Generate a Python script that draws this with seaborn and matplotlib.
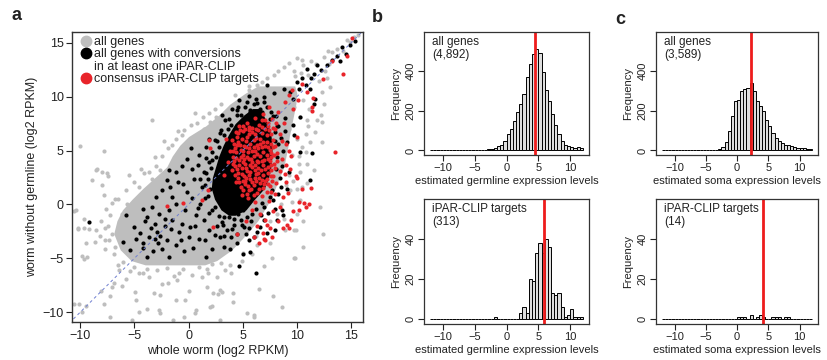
import numpy as np
import pandas as pd
import matplotlib
matplotlib.use("Agg")
import matplotlib.pyplot as plt
from matplotlib.lines import Line2D
import seaborn as sns

sns.set_style("ticks")
plt.rcParams["font.family"] = ["Liberation Sans", "DejaVu Sans"]
plt.rcParams["text.color"] = "#222222"
plt.rcParams["axes.labelcolor"] = "#222222"
plt.rcParams["xtick.color"] = "#222222"
plt.rcParams["ytick.color"] = "#222222"

GRAY = "#bebebe"
BLACK = "#000000"
RED = "#e8242a"

# ---- panel a: whole worm vs worm without germline (log2 RPKM) ----
# dense, saturated part of each cloud (row y, left x, right x)
gray_core_y = [-5.6, -5.2, -4.2, -2.7, -1.5, -0.5, 0.5, 1.5, 2.5, 3.5, 4.5, 5.5, 6.3, 7.3, 8.3, 9.3, 10.3, 11.0]
gray_core_left = [-4.0, -5.3, -6.3, -6.9, -6.6, -6.1, -5.2, -4.2, -3.1, -2.0, -1.5, -0.8, 0.0, 1.6, 2.8, 3.8, 5.2, 6.4]
gray_core_right = [1.5, 2.6, 4.0, 5.4, 6.4, 7.0, 7.6, 8.0, 8.4, 8.8, 9.0, 9.2, 9.3, 9.5, 9.7, 9.9, 10.0, 9.8]

black_core_y = [-1.0, -0.5, 0.5, 1.5, 2.5, 3.5, 4.5, 5.5, 6.5, 7.5, 8.3, 8.9]
black_core_left = [3.7, 3.0, 2.4, 2.1, 2.2, 2.5, 2.8, 3.2, 3.7, 4.3, 5.1, 5.9]
black_core_right = [4.3, 5.3, 6.1, 7.0, 7.4, 7.6, 7.7, 7.7, 7.6, 7.3, 6.9, 6.5]

# single genes outside the saturated cores
gray_pts = [
    (-10.0, 5.4), (-8.5, 3.2), (-7.5, 2.9), (-7.4, 2.6), (-10.6, -0.6), (-9.6, -1.3), (-10.2, -2.3),
    (-9.2, -2.3), (-8.1, -1.5), (-9.5, -3.6), (-8.5, -2.4), (-9.8, -4.8), (-9.6, -5.1), (-10.1, -9.2),
    (-8.1, -8.0), (-6.15, -7.6), (-7.2, -8.5), (-5.2, -10.7), (-4.8, -8.9), (-3.2, -8.2), (-1.85, -7.3),
    (-1.1, -7.0), (-0.3, -8.9), (0.7, -9.8), (2.0, -9.5), (2.3, -8.2), (2.9, -7.9), (4.1, -9.0),
    (5.4, -10.1), (6.0, -10.25), (7.8, -8.5), (8.6, -9.5), (9.7, -5.0), (9.7, -2.4), (10.6, -3.9),
    (12.1, -0.2), (12.3, 5.8), (10.9, 1.95), (12.4, -2.7), (2.9, -10.7), (-2.6, -10.1), (-1.4, -10.7),
    (-10.4, -0.5), (-10.2, -2.2), (-9.6, -2.2), (-9.35, -4.9), (-7.7, -3.3), (-8.6, -3.5), (-8.2, -2.9),
    (-7.05, -2.7), (-7.66, -2.2), (-6.74, -3.9), (-6.43, -6.1), (-5.8, -6.9), (-6.9, -7.3), (-7.1, -7.65),
    (-4.6, -6.35), (-3.67, -6.7), (-2.9, -6.1), (-2.4, -7.35), (-0.9, -6.4), (0.0, -8.0), (1.25, -6.7),
    (1.77, -6.4), (-1.2, -8.9), (1.7, -7.65), (-2.6, -8.4), (2.17, -9.4), (-10.6, -9.2), (-9.5, -9.4),
    (-9.8, -10.0), (-7.8, -9.2), (-4.9, -8.1), (-3.8, -9.7), (-4.6, -10.0), (-2.74, -9.8), (0.64, -10.1),
    (-0.38, -10.4), (-7.2, -10.4), (-8.9, 2.3), (-8.0, 1.8), (-7.8, 0.85), (-6.74, 0.54), (-5.67, 0.08),
    (-5.2, -1.47), (-6.1, -0.85), (0.64, 8.5), (-3.36, 7.8), (-7.8, 5.0), (-8.4, 3.3), (-8.0, 3.0),
    (-3.05, 4.4), (-1.5, 5.5), (-0.6, 6.4), (-2.3, 5.9), (1.4, 7.0), (2.0, 7.65), (2.5, 8.1),
    (-3.67, 3.0), (-4.4, 3.3), (-5.5, 2.7), (6.0, -10.4), (6.5, -7.8), (4.1, -8.2), (3.1, -8.1),
    (2.7, -8.3), (7.7, -5.0), (6.95, -5.7), (9.8, -5.0), (10.6, -1.5), (9.9, -2.4), (10.0, -0.85),
    (9.56, 0.23), (10.3, 0.39), (8.9, -2.4), (8.8, -1.3), (8.2, -0.85), (10.0, 1.47), (9.4, 1.31),
    (10.5, 1.62), (7.56, -3.6), (5.9, -4.6), (6.3, -3.8), (4.94, -5.2), (3.87, -5.6), (3.4, -6.1),
    (2.64, -6.7), (10.0, 13.6), (10.5, 13.4), (9.25, 13.1), (8.3, 12.4), (7.9, 12.0), (7.25, 11.7),
    (6.33, 11.05), (5.56, 10.6), (4.9, 9.8), (4.3, 9.35), (3.7, 8.7), (2.95, 8.1), (8.8, 12.75),
    (9.7, 12.4), (10.6, 12.9), (12.5, 13.7), (13.25, 14.1), (14.9, 15.1), (15.6, 15.7), (12.8, 11.7),
    (13.1, 10.9), (12.3, 10.4), (12.5, 9.35), (12.2, 8.3), (12.3, 7.65), (11.7, 6.7), (11.25, 5.8),
    (10.8, 4.87), (10.9, 3.8), (10.3, 3.0), (9.25, 2.7), (11.6, 3.16), (11.9, 7.8), (10.9, 7.8),
    (10.3, 8.1), (11.1, 8.9), (10.6, 9.66), (9.7, 9.0), (8.9, 8.9), (8.6, 8.1), (9.25, 7.0),
    (10.0, 6.1), (9.56, 4.56), (10.2, 3.8), (11.0, 12.0), (11.8, 13.0), (12.6, 12.4), (13.0, 13.0),
    (13.7, 14.4), (14.3, 14.2), (12.0, 11.5), (9.8, 11.9), (10.4, 12.2), (11.3, 13.3), (12.9, 14.2),
    (14.6, 15.3), (15.3, 15.5), (-7.2, -1.0), (-7.4, -2.0), (-7.3, -3.3), (-6.9, -4.6), (-6.0, -5.3),
    (-5.0, -5.8), (-3.8, -6.0), (-2.0, -5.9), (-0.5, -6.0), (1.0, -5.8), (2.2, -5.5), (-6.5, 0.5),
    (-5.8, 1.3), (-5.0, 2.1), (-4.1, 2.9), (-3.0, 3.6), (-2.4, 4.5), (-1.9, 5.2), (-1.2, 6.1),
    (-0.4, 6.9), (0.8, 7.6), (1.9, 8.5), (3.0, 9.3), (4.3, 10.2), (5.6, 11.0), (6.8, 11.4),
    (3.9, -6.4), (5.0, -4.5), (6.2, -2.9), (7.5, -1.5), (8.5, 0.0), (9.0, 1.8), (9.6, 2.2),
    (10.2, 4.5), (10.5, 5.3), (10.8, 6.5), (11.0, 7.3), (-7.6, -0.4), (-7.1, 0.1), (-7.7, -4.1),
    (-6.5, -5.6), (-5.4, -6.2), (-4.2, -6.4), (-1.3, -6.6), (0.3, -6.5), (1.7, -6.0), (3.0, -5.4),
    (-4.6, 1.6), (-3.4, 2.4), (-2.6, 3.2), (-1.0, 6.8), (0.2, 7.4), (1.3, 8.1), (2.4, 8.9),
]

black_pts = [
    (-9.2, -1.6), (-5.4, -4.2), (-5.0, -2.1), (-4.2, -3.6), (-4.2, -4.0), (-3.8, -4.9), (-3.67, -3.0),
    (-3.8, -1.16), (-3.1, -1.8), (-3.05, -3.2), (-2.9, -2.55), (-2.6, -2.95), (-2.44, -4.1), (-1.83, -4.9),
    (-2.13, -1.31), (-1.57, -2.24), (-0.9, -2.55), (-0.6, -1.78), (0.08, -3.0), (0.17, -2.1), (-0.28, -0.54),
    (-1.2, 0.08), (-1.5, 0.7), (-1.8, -0.54), (-2.74, -0.85), (-3.4, -0.23), (-2.44, 1.31), (-1.67, 1.62),
    (-0.96, 2.1), (-0.1, 1.16), (0.7, -1.0), (0.94, -3.2), (1.55, -3.3), (1.62, -4.9), (2.17, -4.1),
    (1.86, -2.4), (1.4, -1.47), (1.1, 0.08), (2.17, -0.54), (11.25, 2.3), (4.7, -5.7), (6.2, -6.4),
    (5.7, -4.4), (5.0, -4.6), (4.5, -3.6), (3.87, -4.1), (3.25, -3.94), (5.56, -3.3), (6.0, -3.0),
    (6.33, -2.55), (8.0, -2.4), (8.17, -1.47), (8.6, -0.54), (8.0, -0.39), (7.56, 0.7), (9.1, 1.47),
    (8.5, 1.62), (6.94, -1.47), (6.64, -2.1), (5.1, -2.1), (4.5, -2.7), (5.4, -1.16), (3.56, -2.4),
    (2.95, -3.0), (15.4, 15.2), (14.9, 14.8), (14.2, 14.6), (14.5, 14.0), (13.7, 13.8), (14.0, 13.3),
    (13.25, 13.4), (12.8, 12.9), (12.2, 12.5), (11.9, 12.9), (11.6, 12.1), (10.9, 12.6), (11.3, 11.7),
    (10.5, 11.7), (10.8, 11.05), (10.0, 11.4), (10.2, 10.7), (11.25, 10.7), (11.7, 9.8), (11.6, 9.35),
    (9.4, 10.4), (9.65, 9.8), (8.8, 10.7), (7.9, 10.3), (7.25, 11.05), (6.94, 10.0), (5.56, 10.1),
    (6.02, 9.35), (4.64, 9.66), (4.02, 8.9), (3.4, 7.8), (3.1, 8.3), (4.5, 8.3), (6.6, 8.9),
    (5.7, 8.6), (10.3, 8.1), (10.3, 4.85), (11.4, 4.75), (9.7, 6.4), (8.9, 8.0), (8.3, 7.3),
    (1.87, 6.05), (1.57, 5.3), (0.2, 5.2), (-0.1, 4.25), (1.0, 4.6), (-1.2, 3.0), (-1.8, 3.16),
    (0.35, 3.3), (2.17, 4.1), (1.4, 3.0), (9.3, 3.0), (9.1, 5.8), (9.6, 7.4), (8.7, -1.0),
    (-4.5, -2.6), (-4.0, -1.5), (-3.5, -2.2), (-3.3, -4.3), (-2.8, -3.6), (-2.2, -2.0), (-2.0, -3.3),
    (-1.5, -1.4), (-1.2, -3.8), (-0.7, -3.3), (-0.4, -4.3), (0.4, -4.0), (0.6, -2.0), (0.9, -0.3),
    (0.3, 0.6), (-0.5, 1.9), (0.5, 2.4), (1.2, 1.6), (0.9, 3.7), (-0.6, 3.6), (-2.0, 2.3),
    (-3.0, 0.7), (-4.2, -0.4), (-4.8, -3.2), (-6.0, -3.5), (-5.8, -1.0), (2.6, -2.0), (2.8, -1.1),
    (3.1, -1.6), (3.7, -1.2), (4.2, -1.9), (4.8, -1.4), (5.6, -2.2), (6.7, -1.0), (7.3, -0.8),
    (7.8, 0.4), (8.3, 1.0), (8.4, 2.5), (8.6, 3.6), (8.7, 5.0), (8.5, 6.2), (8.9, 6.8),
    (8.1, 8.2), (7.6, 8.6), (7.0, 9.5), (6.2, 9.8), (5.2, 9.0), (4.6, 9.0), (3.6, 7.0),
    (2.9, 6.6), (2.4, 6.0), (1.6, 4.3), (1.1, 2.4), (1.5, 0.6), (1.9, -0.8), (2.4, -2.8),
    (3.3, -2.9), (3.9, -3.0), (5.3, -2.7), (7.2, -2.6), (3.2, -1.9), (4.0, -2.3), (4.6, -0.9),
    (5.0, -0.5), (5.8, -1.5), (6.2, -0.4), (7.0, -0.2), (8.2, 4.4), (8.3, 5.6), (8.0, 6.7),
    (3.3, -1.2), (2.4, -0.2), (1.8, 0.8), (1.5, 1.8), (1.6, 2.9), (1.9, 3.9), (2.2, 4.9),
    (2.6, 5.9), (3.0, 6.9), (3.7, 7.9), (4.5, 8.8), (5.4, 9.5), (6.3, 9.4), (7.2, 9.0),
    (7.8, 8.2), (8.2, 7.3), (8.0, 5.9), (8.1, 3.3), (7.7, 1.3), (6.8, 0.1), (5.9, -0.9),
    (4.9, -1.9), (4.2, -1.3), (3.9, -0.6), (2.0, 1.4), (1.8, 2.4), (2.1, 3.4), (2.5, 4.4),
    (2.8, 5.3), (3.3, 6.4), (3.9, 7.4), (4.8, 8.3), (5.7, 8.8), (6.8, 8.6), (7.5, 7.9),
]

red_pts = [
    (4.2, 5.6), (4.5, 6.3), (4.8, 5.1), (5.0, 6.8), (5.3, 5.9), (5.6, 6.5), (5.9, 7.1), (6.2, 6.2),
    (6.5, 7.4), (6.8, 6.6), (7.1, 7.8), (7.4, 6.9), (4.1, 4.4), (4.4, 4.9), (4.7, 4.1), (5.0, 4.6),
    (5.2, 3.8), (5.5, 4.9), (5.8, 4.2), (6.0, 5.3), (6.3, 4.7), (6.6, 5.6), (6.9, 4.9), (7.2, 5.8),
    (7.5, 5.1), (7.8, 6.0), (4.0, 3.2), (4.3, 3.6), (4.6, 2.9), (4.9, 3.4), (5.1, 2.6), (5.4, 3.1),
    (5.7, 2.4), (5.9, 3.5), (6.2, 2.8), (6.4, 3.9), (6.7, 3.2), (7.0, 4.1), (7.3, 3.5), (7.6, 4.4),
    (7.9, 3.8), (4.4, 2.1), (4.8, 1.6), (5.2, 1.9), (5.6, 1.3), (6.0, 1.8), (6.3, 1.1), (6.6, 2.0),
    (6.9, 1.5), (7.2, 2.4), (7.5, 1.7), (7.8, 2.6), (8.1, 2.0), (3.6, 3.9), (3.3, 2.7), (3.8, 5.0),
    (3.5, 6.1), (8.2, 4.8), (8.4, 3.1), (8.0, 7.0), (7.7, 7.9), (6.9, 8.4), (6.1, 8.0), (5.4, 7.6),
    (4.7, 7.3), (8.6, 5.9), (8.8, 7.6), (8.3, 8.6), (7.4, 9.0), (4.3, 5.2), (4.6, 5.8), (4.9, 6.1),
    (5.1, 5.4), (5.4, 6.3), (5.7, 5.6), (6.0, 6.0), (6.3, 5.5), (6.6, 6.1), (6.9, 5.8), (7.2, 6.4),
    (4.2, 4.0), (4.5, 3.3), (4.8, 4.4), (5.1, 4.2), (5.4, 4.4), (5.7, 3.7), (6.0, 4.5), (6.3, 4.0),
    (6.6, 4.5), (6.9, 3.7), (7.2, 4.6), (7.5, 4.0), (4.6, 2.5), (5.0, 2.2), (5.3, 2.5), (5.7, 3.0),
    (6.1, 3.2), (6.5, 2.5), (6.9, 2.7), (7.3, 2.9), (7.6, 3.2), (5.5, 1.7), (6.2, 2.2), (7.0, 1.9),
    (7.7, 2.2), (8.0, 3.4), (8.2, 4.0), (7.9, 4.6), (7.6, 5.6), (8.0, 5.4), (7.3, 7.3), (6.8, 7.8),
    (6.2, 7.0), (5.6, 7.2), (5.0, 7.3), (4.6, 6.6), (8.4, 6.5), (8.1, 7.6),
    (4.05, 6.0), (4.35, 6.7), (4.75, 6.9), (5.2, 7.0), (5.55, 6.9), (5.85, 6.7), (6.15, 6.55),
    (6.45, 6.9), (6.75, 7.2), (7.05, 7.0), (7.35, 7.6), (7.6, 6.5), (7.75, 7.1), (4.15, 5.0),
    (4.45, 5.5), (4.75, 5.5), (5.05, 5.0), (5.3, 5.3), (5.6, 5.2), (5.85, 5.0), (6.15, 5.0),
    (6.45, 5.2), (6.75, 5.3), (7.05, 5.4), (7.35, 5.3), (7.65, 4.8), (7.8, 5.3), (4.1, 3.8),
    (4.4, 4.3), (4.7, 3.7), (5.0, 3.9), (5.3, 3.4), (5.55, 4.2), (5.85, 3.9), (6.15, 3.7),
    (6.45, 3.4), (6.75, 4.0), (7.05, 3.3), (7.35, 4.2), (7.65, 3.7), (4.3, 2.7), (4.65, 2.1),
    (4.95, 2.8), (5.25, 2.2), (5.55, 2.7), (5.85, 2.1), (6.15, 2.5), (6.45, 2.9), (6.75, 2.3),
    (7.05, 2.2), (7.35, 1.9), (7.65, 2.6), (5.0, 1.3), (5.4, 1.0), (5.8, 1.4), (6.5, 1.4),
    (7.2, 1.2), (7.6, 1.2), (4.9, 0.9), (6.0, 0.9),
    (5.5, 0.6), (6.1, 0.2), (6.8, 0.8), (7.4, 0.3), (8.0, 1.0), (5.9, -0.5), (6.6, -0.9), (7.1, -1.4),
    (7.8, -0.6), (8.4, -0.2), (5.3, -1.5), (6.3, -2.0), (6.9, -2.6), (7.5, -2.2), (6.0, -3.0),
    (7.1, -3.3), (6.5, -3.6), (8.3, -1.5), (8.7, 0.7), (9.2, 1.1), (9.6, -0.6), (10.2, 0.2),
    (10.5, 1.4), (9.9, 2.6), (9.4, 3.3), (9.0, 2.1), (10.8, -0.2), (11.3, 1.5), (9.1, -1.9),
    (4.5, -2.7), (10.7, 0.1), (11.1, 0.0), (10.2, -0.5), (9.5, -1.4), (9.25, -2.2), (8.7, -2.2),
    (7.7, -3.0), (6.95, -3.2), (7.25, -1.9), (10.0, 2.5), (8.6, 4.2), (9.0, 3.7), (9.3, 5.0),
    (8.9, 2.8), (8.9, 9.5), (9.3, 10.2), (9.6, 8.9), (10.1, 9.7), (10.5, 11.2), (10.9, 10.4),
    (11.4, 9.0), (11.35, 8.7), (11.5, 9.9), (9.56, 10.6), (12.4, 11.6), (13.2, 13.3), (14.6, 13.8),
    (14.3, 12.1), (15.1, 15.4), (13.5, 4.9), (9.0, 5.6), (9.5, 4.5), (10.0, 6.3),
    (-2.0, -0.1), (-0.5, 0.1), (1.25, 0.45), (1.8, 1.3), (2.3, -2.1), (1.9, 6.0), (2.0, 5.2),
]

# legend rows: (colour of the dot or None, text)
legend_rows = [
    (GRAY, "all genes"),
    (BLACK, "all genes with conversions"),
    (None, "in at least one iPAR-CLIP"),
    (RED, "consensus iPAR-CLIP targets"),
]

# ---- panels b and c: histograms, bins of 0.5 from -12 to 12 ----
bin_edges = [-12 + 0.5 * i for i in range(49)]
germline_all = [0, 1, 0, 0, 1, 0, 1, 0, 1, 0, 1, 1, 0, 1, 1, 2, 2, 3,
                5, 8, 13, 20, 30, 50, 84, 109, 151, 193, 235, 286, 370, 437, 487, 513,
                490, 395, 306, 252, 185, 126, 84, 50, 25, 20, 17, 12, 17, 12]
germline_targets = [0, 0, 0, 0, 0, 0, 0, 0, 0, 0, 0, 0, 0, 0, 0, 0, 0, 0, 0, 0,
                    1, 0, 0, 0, 0, 0, 0, 0,
                    3, 6, 3, 20, 19, 33, 38, 33, 40, 36, 13, 12, 13, 6, 1, 2, 5, 1, 1, 1]
soma_all = [0, 0, 0, 0, 1, 0, 0, 1, 0, 0, 1, 0, 1, 1, 1, 2, 2, 3,
            8, 18, 42, 100, 175, 250, 255, 300, 310, 316, 338, 300, 249, 223, 198, 156,
            123, 89, 64, 47, 39, 30, 25, 22, 17, 13, 10, 13, 7, 5]
soma_targets = [0, 0, 0, 0, 0, 0, 0, 0, 0, 0, 0, 0, 0, 0, 0, 0, 0, 0, 0, 0, 0, 0, 0, 0,
                1, 1, 1, 0, 2, 0, 1, 2, 1, 0, 0, 1, 1, 1, 0, 1, 1,
                0, 0, 0, 0, 0, 0, 0]
medians = {"germline_all": 4.5, "germline_targets": 5.9, "soma_all": 2.3, "soma_targets": 4.1}
hist_notes = {"germline_all": "all genes\n(4,892)", "germline_targets": "iPAR-CLIP targets\n(313)",
              "soma_all": "all genes\n(3,589)", "soma_targets": "iPAR-CLIP targets\n(14)"}

fig = plt.figure(figsize=(8.27, 3.6), dpi=100)

# scatter panel
ax = fig.add_axes([72 / 827, 1 - 322 / 360, 291 / 827, 290 / 360])
ax.fill_betweenx(gray_core_y, gray_core_left, gray_core_right, color=GRAY, lw=0)
gdf = pd.DataFrame(gray_pts, columns=["x", "y"])
sns.scatterplot(data=gdf, x="x", y="y", color=GRAY, s=9, linewidth=0, ax=ax, legend=False)
ax.plot([-11, 16.5], [-11, 16.5], ls=(0, (3, 3)), color="#6f7fd0", lw=0.7)
ax.fill_betweenx(black_core_y, black_core_left, black_core_right, color=BLACK, lw=0)
bdf = pd.DataFrame(black_pts, columns=["x", "y"])
sns.scatterplot(data=bdf, x="x", y="y", color=BLACK, s=9, linewidth=0, ax=ax, legend=False)
rdf = pd.DataFrame(red_pts, columns=["x", "y"])
sns.scatterplot(data=rdf, x="x", y="y", color=RED, s=9, linewidth=0, ax=ax, legend=False)

ax.set_xlim(-10.75, 16.1)
ax.set_ylim(-10.9, 16.0)
ax.set_xticks([-10, -5, 0, 5, 10, 15])
ax.set_yticks([-10, -5, 0, 5, 10, 15])
ax.set_xlabel("whole worm (log2 RPKM)", fontsize=9, labelpad=2)
ax.set_ylabel("worm without germline (log2 RPKM)", fontsize=9, labelpad=3)
ax.tick_params(direction="out", length=4, width=0.8, labelsize=9, pad=2)
for sp in ax.spines.values():
    sp.set_linewidth(1.0)
    sp.set_color("#333333")

handles = [Line2D([], [], marker="o", ls="", color=c if c else "none", markersize=7.5)
           for c, _ in legend_rows]
leg = ax.legend(handles, [t for _, t in legend_rows], loc="upper left",
                bbox_to_anchor=(8 / 291, 1 - 3 / 290), frameon=False, fontsize=9,
                handlelength=0.8, handletextpad=0.25, labelspacing=0.02, borderpad=0.1,
                borderaxespad=0)

# histogram panels
centers = [e + 0.25 for e in bin_edges[:-1]]
hist_specs = [
    ("germline_all", germline_all, [424, 32, 589, 155], 575, [0, 200, 400], "estimated germline expression levels"),
    ("germline_targets", germline_targets, [424, 199, 589, 324], 57.4, [0, 20, 40], "estimated germline expression levels"),
    ("soma_all", soma_all, [656, 32, 818, 155], 575, [0, 200, 400], "estimated soma expression levels"),
    ("soma_targets", soma_targets, [656, 199, 818, 324], 57.4, [0, 20, 40], "estimated soma expression levels"),
]
for key, counts, box, ytop, yt, xlab in hist_specs:
    x0, y0, x1, y1 = box
    hax = fig.add_axes([x0 / 827, 1 - y1 / 360, (x1 - x0) / 827, (y1 - y0) / 360])
    hdf = pd.DataFrame({"level": centers, "n": np.asarray(counts, dtype=float)})
    sns.histplot(data=hdf, x="level", weights="n", bins=bin_edges, ax=hax, color="#dedede",
                 edgecolor="black", linewidth=0.7, alpha=1)
    hax.axvline(medians[key], color="#ee1c1c", lw=2.0)
    hax.set_xlim(-12.96, 12.96)
    hax.set_ylim(-0.04 * ytop, ytop * 1.04)
    hax.set_xticks([-10, -5, 0, 5, 10])
    hax.set_yticks(yt)
    hax.set_yticklabels([str(v) for v in yt], rotation=90, va="center")
    hax.set_xlabel(xlab, fontsize=8, labelpad=2)
    hax.set_ylabel("Frequency", fontsize=8, labelpad=3)
    hax.tick_params(direction="out", length=4, width=0.8, labelsize=8, pad=2)
    for sp in hax.spines.values():
        sp.set_linewidth(0.9)
        sp.set_color("#333333")
    hax.text(0.05, 0.97, hist_notes[key], transform=hax.transAxes, fontsize=8.5,
             va="top", ha="left", linespacing=1.1)

fig.text(17 / 827, 1 - 15 / 360, "a", fontsize=13, fontweight="bold", ha="center", va="center")
fig.text(377 / 827, 1 - 17 / 360, "b", fontsize=13, fontweight="bold", ha="center", va="center")
fig.text(620 / 827, 1 - 20 / 360, "c", fontsize=13, fontweight="bold", ha="center", va="center")

fig.savefig("out.png", dpi=100)
